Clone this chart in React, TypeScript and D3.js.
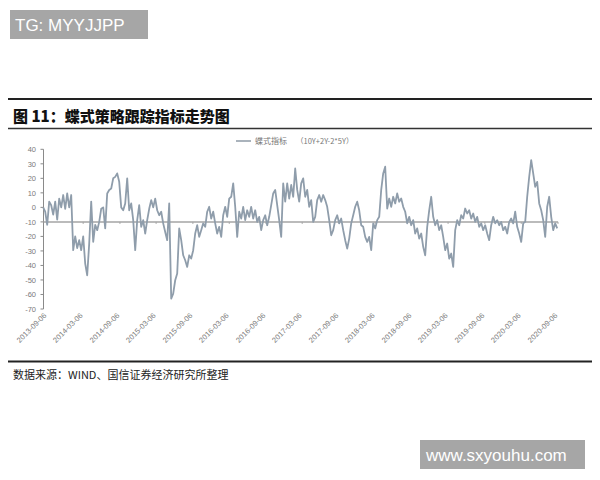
import React from "react";
import * as d3 from "d3";

const seriesName = "蝶式指标";
const seriesNote = "（10Y+2Y-2*5Y）";
const title = "图 11：蝶式策略跟踪指标走势图";
const source = "数据来源：WIND、国信证券经济研究所整理";
const yTicks = [40, 30, 20, 10, 0, -10, -20, -30, -40, -50, -60, -70];
const xTickLabels = [
  "2013-09-06", "2014-03-06", "2014-09-06", "2015-03-06", "2015-09-06",
  "2016-03-06", "2016-09-06", "2017-03-06", "2017-09-06", "2018-03-06",
  "2018-09-06", "2019-03-06", "2019-09-06", "2020-03-06", "2020-09-06",
];
const startDate = "2013-08-18";
const endDate = "2020-09-02";
const values = [
  0, -3, -12, 4, 1.5, -5, 4, -8.5, 6, 0,
  8.5, -1, 9.6, 0, 8.5, -29.5, -20, -28, -22.6, -29.5,
  -20, -38.7, -46.8, -25, 4, -23.7, -12, -15.7, -10, -1,
  0, -14.5, 9.6, 12, 13, 20, 21, 23.4, 17.6, 0,
  -2, 2.7, 20, -2, 2.7, -8.8, -29.5, -8.8, 1.5, -13.4,
  -8.8, -18, -8.8, -1, 5, 0, 6, -2, -5.4, -3,
  -11, -17, -22.6, 2.7, -62.8, -59.4, -50.2, -45.6, -14.5, -22.6,
  -33, -36.4, -41, -33, -35.3, -29.5, -18, -12.3, -20.3, -15.7,
  -11, -13.4, -3, 0.4, -7.7, -3, -11, -18, -13.4, -20.3,
  -5.4, 0.4, -6.5, 6, 7.3, 16.5, 0.4, -20.3, -3, -7.7,
  0.4, -8.8, -2, -6.5, 0.4, -7.7, -2, -10, -6.5, -15.7,
  -8.8, -5.4, -12.3, -6.5, 1.5, 9.6, 12, 1.5, -8.8, -20.3,
  16.5, 3.9, 16.5, 6.1, 15.4, 7.3, 26.8, 12, 3.9, 16.5,
  20, 7.3, 12, 0.4, 5, -10, -6.5, 5, 8.5, 3.9,
  8.5, 5, 0.4, -8.8, -19.2, -15.7, -8.8, -5.4, -11, -7.7,
  -15.7, -22.6, -28.4, -21.5, -11, -5.4, 0.4, 3.9, -2, -12.3,
  -13.4, -20.3, -23.8, -20.3, -29.5, -11, -14.5, -8.8, -6.5, 12,
  23.4, 28, -0.8, 6.1, 0.4, 7.3, 2.7, 9.6, 3.9, 6.1,
  0.4, -3, -11, -6.5, -12.3, -8.8, -18, -14.5, -21.5, -18,
  -27.2, -33, -13.4, -2, 7.3, -6.5, -12.3, -8.8, -15.7, -12.3,
  -20.3, -29.5, -24.9, -35.3, -31.8, -41, -15.7, -8.8, -12.3, -5.4,
  -7.7, -0.8, -4.2, -2, -7.7, -4.2, -10, -6.5, -13.4, -11,
  -15.7, -12.3, -18, -22.6, -12.3, -6.5, -11, -8.8, -12.3, -10,
  -15.7, -13.4, -18, -10, -7.7, -11, -3, -13.4, -18, -23.8,
  -11, -10, 7.3, 21.1, 32.6, 23.4, 14.2, 17.6, 2.7, -2,
  -8.8, -20.3, 0.4, 7.3, -6.5, -15.7, -11, -14.5,
];
const refLine = -10;

export default function App() {
  const W = 600, H = 480;
  const parse = d3.timeParse("%Y-%m-%d");
  const x = d3.scaleTime()
    .domain([parse(xTickLabels[0])!, parse(xTickLabels[xTickLabels.length - 1])!])
    .range([47, 558]);
  const y = d3.scaleLinear().domain([-70, 40]).range([309, 149.3]);
  const t0 = parse(startDate)!.getTime();
  const t1 = parse(endDate)!.getTime();
  const n = values.length;
  const pts = values.map((v, i) => ({ d: new Date(t0 + ((t1 - t0) * i) / (n - 1)), v }));
  const line = d3.line<{ d: Date; v: number }>().x((p) => x(p.d)).y((p) => y(p.v));
  const axisColor = "#8a8a8a";
  const labelColor = "#7a7a7a";
  const font = "'Liberation Sans', Arial, sans-serif";
  const cjk = "'Noto Sans CJK SC', sans-serif";
  return (
    <svg width={W} height={H} style={{ position: "absolute", left: 0, top: 0 }}>
      <rect x={0} y={0} width={W} height={H} fill="#fff" />
      {/* watermark top */}
      <rect x={10} y={10} width={138} height={29} fill="#a6a6a6" />
      <text x={15} y={31} fill="#fff" fontSize={17} fontFamily={font}>TG: MYYJJPP</text>
      {/* title */}
      <line x1={8} x2={592} y1={99} y2={99} stroke="#222" strokeWidth={2} />
      <text x={13} y={122} fill="#111" fontSize={15} fontWeight="900" fontFamily={cjk}>{title}</text>
      <line x1={8} x2={592} y1={128.5} y2={128.5} stroke="#333" strokeWidth={1.5} />
      {/* legend */}
      <line x1={236} x2={251} y1={141} y2={141} stroke="#8e9aa6" strokeWidth={1.5} />
      <text x={255} y={144} fill="#777" fontSize={8} fontFamily={cjk}>{seriesName}</text>
      <text x={296} y={144} fill="#777" fontSize={7.5} fontFamily={cjk}>{seriesNote}</text>
      {/* y axis */}
      <line x1={43.5} x2={43.5} y1={y(40)} y2={y(-70)} stroke={axisColor} strokeWidth={1} />
      {yTicks.map((t) => (
        <g key={t}>
          <line x1={40.5} x2={43.5} y1={y(t)} y2={y(t)} stroke={axisColor} />
          <text x={36} y={y(t) + 3} textAnchor="end" fill={labelColor} fontSize={7.5} fontFamily={font}>{t}</text>
        </g>
      ))}
      {/* reference line */}
      <line x1={43.5} x2={558} y1={y(refLine)} y2={y(refLine)} stroke="#a5a5a5" strokeWidth={1.5} />
      {xTickLabels.map((l) => (
        <line key={"t" + l} x1={x(parse(l)!)} x2={x(parse(l)!)} y1={y(refLine)} y2={y(refLine) + 2} stroke="#a5a5a5" />
      ))}
      {/* series */}
      <path d={line(pts) ?? ""} fill="none" stroke="#8f9dab" strokeWidth={1.8} strokeLinejoin="round" />
      {/* x labels */}
      {xTickLabels.map((l) => {
        const px = x(parse(l)!);
        return (
          <text key={l} transform={`translate(${px},${316}) rotate(-45)`} textAnchor="end" fill={labelColor} fontSize={7.5} fontFamily={font}>{l}</text>
        );
      })}
      {/* source */}
      <line x1={8} x2={592} y1={361.5} y2={361.5} stroke="#222" strokeWidth={2} />
      <text x={13} y={379} fill="#222" fontSize={11} fontFamily={cjk}>{source}</text>
      {/* watermark bottom */}
      <rect x={420} y={440} width={165} height={29} fill="#a6a6a6" />
      <text x={426} y={461} fill="#fff" fontSize={17} fontFamily={font}>www.sxyouhu.com</text>
    </svg>
  );
}
